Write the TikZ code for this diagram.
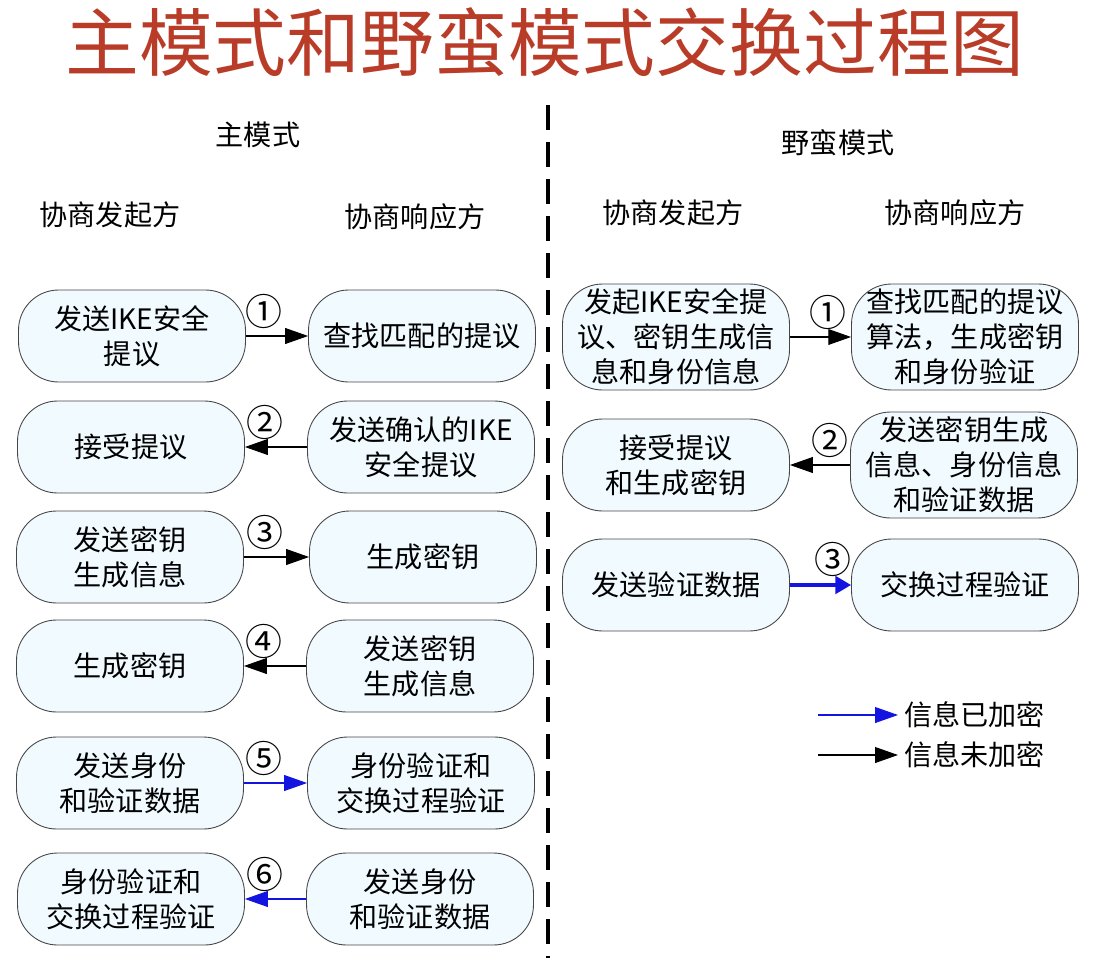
\documentclass[tikz,border=0pt]{standalone}
\usepackage{fontspec}
\setmainfont{Noto Sans CJK SC}
\usetikzlibrary{arrows.meta}
\definecolor{titlered}{RGB}{185,60,40}
\definecolor{boxfill}{RGB}{240,250,255}
\definecolor{boxline}{RGB}{70,70,70}
\definecolor{encblue}{RGB}{20,20,225}

\begin{document}
\begin{tikzpicture}[x=0.02cm,y=-0.02cm,
  stage/.style={draw=boxline,fill=boxfill,line width=0.5pt,rounded corners=0.8cm,
    minimum width=4.54cm,minimum height=1.84cm,inner xsep=2pt,inner ysep=1pt,
    align=center,font=\fontsize{16}{20}\selectfont},
  tall/.style={minimum height=2.12cm},
  plain/.style={-{Triangle[length=13pt,width=9pt]},line width=0.6pt,black},
  secret/.style={plain,encblue},
  num/.style={above=4pt,inner sep=0pt,text=black,font=\fontsize{21}{21}\selectfont},
  colhead/.style={font=\fontsize{16}{16}\selectfont}]
  \useasboundingbox (0,0) rectangle (1095,960);
  \node[titlered,font=\fontsize{42}{42}\selectfont] (title) at (545,42) {主模式和野蛮模式交换过程图};
  % headings
  \node[colhead] (main) at (258,135) {主模式};
  \node[colhead] (aggr) at (838,143) {野蛮模式};
  \node[colhead] (mI)   at (110,215) {协商发起方};
  \node[colhead] (mR)   at (415,217) {协商响应方};
  \node[colhead] (aI)   at (673,213) {协商发起方};
  \node[colhead] (aR)   at (955,213) {协商响应方};
  % divider
  \coordinate (divT) at (548,105);
  \coordinate (divB) at (548,958);
  \draw[line width=2.4pt,dash pattern=on 0.5cm off 0.24cm] (divT) -- (divB);
  % Main mode
  \node[stage] (m1i) at (132,336) {发送IKE安全\\提议};
  \node[stage] (m1r) at (422,336) {查找匹配的提议};
  \node[stage] (m2i) at (131,447) {接受提议};
  \node[stage] (m2r) at (421,447) {发送确认的IKE\\安全提议};
  \node[stage] (m3i) at (130,557) {发送密钥\\生成信息};
  \node[stage] (m3r) at (423,557) {生成密钥};
  \node[stage] (m4i) at (130,666) {生成密钥};
  \node[stage] (m4r) at (420,666) {发送密钥\\生成信息};
  \node[stage] (m5i) at (130,783) {发送身份\\和验证数据};
  \node[stage] (m5r) at (421,783) {身份验证和\\交换过程验证};
  \node[stage] (m6i) at (131,899) {身份验证和\\交换过程验证};
  \node[stage] (m6r) at (420,899) {发送身份\\和验证数据};
  \draw[plain]  (m1i.east) -- node[num,pos=0.29] (n1) {①} (m1r.west);
  \draw[plain]  (m2r.west) -- node[num,pos=0.68] (n2) {②} (m2i.east);
  \draw[plain]  (m3i.east) -- node[num,pos=0.32] (n3) {③} (m3r.west);
  \draw[plain]  (m4r.west) -- node[num,pos=0.68] (n4) {④} (m4i.east);
  \draw[secret] (m5i.east) -- node[num,pos=0.32] (n5) {⑤} (m5r.west);
  \draw[secret] (m6r.west) -- node[num,pos=0.68] (n6) {⑥} (m6i.east);
  % Aggressive mode
  \node[stage,tall] (a1i) at (676,337) {发起IKE安全提\\议、密钥生成信\\息和身份信息};
  \node[stage,tall] (a1r) at (965,337) {查找匹配的提议\\算法，生成密钥\\和身份验证};
  \node[stage]      (a2i) at (676,465) {接受提议\\和生成密钥};
  \node[stage,tall] (a2r) at (964,465) {发送密钥生成\\信息、身份信息\\和验证数据};
  \node[stage]      (a3i) at (676,585) {发送验证数据};
  \node[stage]      (a3r) at (965,585) {交换过程验证};
  \draw[plain]  (a1i.east) -- node[num,pos=0.62] (n7) {①} (a1r.west);
  \draw[plain]  (a2r.west) -- node[num,pos=0.34] (n8) {②} (a2i.east);
  \draw[secret,line width=2pt,-{Triangle[length=9pt,width=10pt]}] (a3i.east) -- node[num,pos=0.7] (n9) {③} (a3r.west);
  % legend
  \node[colhead,anchor=west] (keyEnc)   at (898,715) {信息已加密};
  \node[colhead,anchor=west] (keyPlain) at (898,755) {信息未加密};
  \coordinate (keyEncS)   at (818,715);
  \coordinate (keyPlainS) at (818,755);
  \draw[secret] (keyEncS) -- (keyEnc.west);
  \draw[plain]  (keyPlainS) -- (keyPlain.west);
\end{tikzpicture}
\end{document}
